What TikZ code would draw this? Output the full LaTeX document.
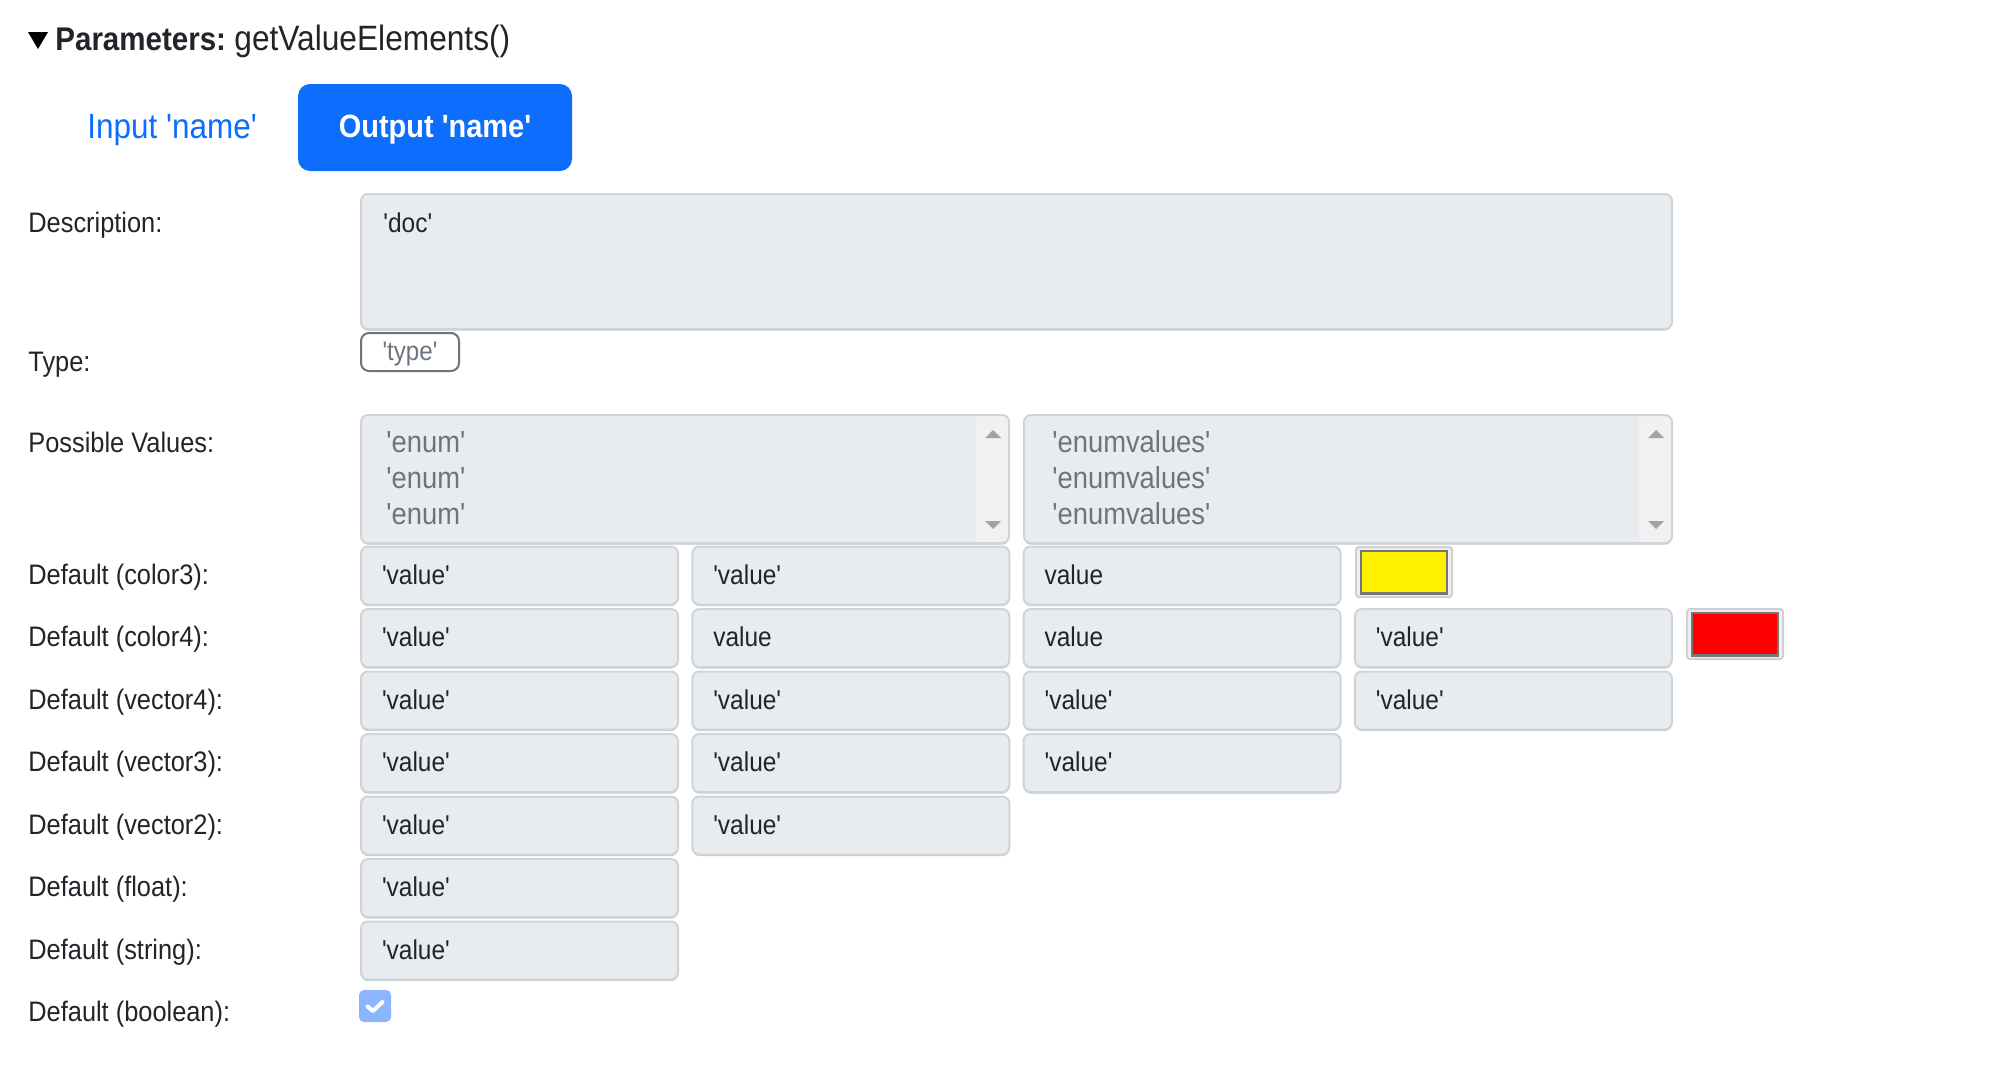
\documentclass[tikz,border=0pt]{standalone}
\usepackage{fontspec}
\newfontfamily\uifont{Liberation Sans}[FakeStretch=0.9]
\definecolor{fieldbg}{HTML}{E9ECEF}
\definecolor{fieldborder}{HTML}{CED4DA}
\definecolor{fieldshadow}{HTML}{C3C9CF}
\definecolor{textdark}{HTML}{212529}
\definecolor{textmuted}{HTML}{6C757D}
\definecolor{primaryblue}{HTML}{0D6EFD}
\definecolor{checkblue}{HTML}{8BB6FD}
\definecolor{scrollbg}{HTML}{F1F1F1}
\definecolor{scrollarrow}{HTML}{A3A3A3}
\definecolor{swatchframe}{HTML}{D0D0D0}
\definecolor{swatchbg}{HTML}{EFEFEF}
\definecolor{swatchedge}{HTML}{767676}

\begin{document}
\uifont
\begin{tikzpicture}[
    x=0.5pt, y=-0.5pt,
    rowlabel/.style={anchor=base west, inner sep=0pt, text=textdark, font=\fontsize{14.1}{17}\selectfont},
    boxbase/.style={rectangle, rounded corners=3.5pt, fill=fieldbg, draw=fieldborder, line width=1pt,
        preaction={fill=fieldshadow, transform canvas={yshift=-0.8pt}}},
    field/.style={boxbase, minimum width=158.5pt, minimum height=29pt, text width=137.5pt, align=left,
        inner xsep=10.5pt, inner ysep=0pt, text height=8.5pt, text depth=0pt, text=textdark,
        font=\fontsize{13.6}{16}\selectfont},
    selectbox/.style={boxbase, minimum width=324pt, minimum height=64pt, inner sep=0pt,
        path picture={
            \fill[scrollbg, sharp corners] ([shift={(-33,0)}]path picture bounding box.north east) rectangle (path picture bounding box.south east);
            \fill[scrollarrow, sharp corners] ([shift={(-16,15)}]path picture bounding box.north east) -- ++(-8,8) -- ++(16,0) -- cycle;
            \fill[scrollarrow, sharp corners] ([shift={(-16,-14)}]path picture bounding box.south east) -- ++(-8,-8) -- ++(16,0) -- cycle;
        }},
    optline/.style={anchor=base west, inner sep=0pt, text=textmuted, font=\fontsize{15.2}{18}\selectfont},
    swatch/.style={rectangle, rounded corners=1.5pt, fill=swatchbg, draw=swatchframe, line width=1pt,
        minimum width=48pt, minimum height=25pt, inner sep=0pt},
    swatchfill/.style={rectangle, draw=swatchedge, line width=1.2pt, minimum width=42.8pt, minimum height=21.3pt, inner sep=0pt}
]
    % Page
    \fill[white] (0,0) rectangle (2003,1071);

    % Title
    \fill[black] (28,32) -- (48,32) -- (38,49) -- cycle;
    \node[anchor=base west, inner sep=0pt, text=textdark, font=\bfseries\fontsize{16.4}{20}\selectfont] (title) at (55,50) {Parameters:};
    \node[anchor=base west, inner sep=0pt, text=textdark, font=\fontsize{17.6}{21}\selectfont] (fname) at (234,50) {getValueElements()};

    % Tabs
    \node[anchor=base west, inner sep=0pt, text=primaryblue, font=\fontsize{17.5}{21}\selectfont] (tabin) at (87,138) {Input 'name'};
    \node[fill=primaryblue, rounded corners=6pt, minimum width=137pt, minimum height=43.5pt, inner sep=0pt,
        text=white, text height=9.5pt, text depth=0pt, font=\bfseries\fontsize{16.1}{19}\selectfont] (tabout) at (435,127.5) {Output 'name'};

    % Description
    \node[rowlabel] (desclabel) at (28,232) {Description:};
    \node[boxbase, minimum width=655.5pt, minimum height=67.5pt] (desc) at (1016.5,261.5) {};
    \node[anchor=base west, inner sep=0pt, text=textdark, font=\fontsize{13.6}{16}\selectfont] (doc) at (383,232) {'doc'};

    % Type
    \node[rowlabel] (typelabel) at (28,371) {Type:};
    \node[draw=textmuted, line width=1pt, rounded corners=4pt, minimum width=49pt, minimum height=19pt, inner sep=0pt,
        text=textmuted, text height=8pt, text depth=0pt, font=\fontsize{13.4}{16}\selectfont] (type) at (410,352) {'type'};

    % Possible values
    \node[rowlabel] (enumlabel) at (28,452) {Possible Values:};
    \node[selectbox] (enums) at (685,479) {};
    \node[selectbox] (enumvals) at (1348,479) {};
    \foreach \k in {0,1,2} {
        \node[optline] (enum\k) at (386,{452+36*\k}) {'enum'};
        \node[optline] (enumval\k) at (1052,{452+36*\k}) {'enumvalues'};
    }

    % Defaults
    \foreach \lab [count=\r from 0] in {color3,color4,vector4,vector3,vector2,float,string,boolean}
        \node[rowlabel] (def\r) at (28,{584+62.5*\r}) {Default (\lab):};

    \foreach \r/\c/\val in {0/0/'value', 0/1/'value', 0/2/value,
                            1/0/'value', 1/1/value, 1/2/value, 1/3/'value',
                            2/0/'value', 2/1/'value', 2/2/'value', 2/3/'value',
                            3/0/'value', 3/1/'value', 3/2/'value',
                            4/0/'value', 4/1/'value',
                            5/0/'value',
                            6/0/'value'}
        \node[field] (f\r\c) at ({519.5+331.3*\c},{575.5+62.5*\r}) {\val};

    % Colour swatches
    \node[swatch] (sw3) at (1404,572) {};
    \node[swatchfill, fill=yellow] (sw3fill) at (sw3.center) {};
    \node[swatch] (sw4) at (1735,634) {};
    \node[swatchfill, fill=red] (sw4fill) at (sw4.center) {};

    % Boolean
    \node[fill=checkblue, rounded corners=2.5pt, minimum size=16pt, inner sep=0pt] (chk) at (375,1006) {};
    \draw[white, line width=2pt, line cap=round, line join=round]
        ([shift={(-7.5,0.5)}]chk.center) -- ([shift={(-2,5)}]chk.center) -- ([shift={(7.5,-4)}]chk.center);
\end{tikzpicture}
\end{document}
